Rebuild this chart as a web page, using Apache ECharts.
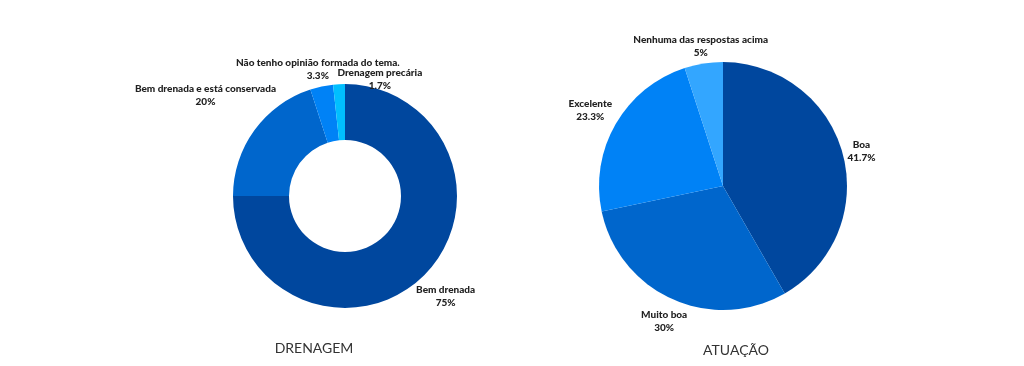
<!DOCTYPE html>
<html>
<head>
<meta charset="utf-8">
<script src="https://cdn.jsdelivr.net/npm/echarts@6/dist/echarts.min.js"></script>
<style>html,body{margin:0;padding:0;background:#fff;}#c{width:1024px;height:366px;}</style>
</head>
<body>
<div id="c"></div>
<script>
const drenagemNames = ['Bem drenada', 'Bem drenada e está conservada', 'Não tenho opinião formada do tema.', 'Drenagem precária'];
const drenagemValues = [75, 20, 3.3, 1.7];
const drenagemColors = ['#00479E', '#0066CC', '#0082F6', '#00BFFF'];

const atuacaoNames = ['Boa', 'Muito boa', 'Excelente', 'Nenhuma das respostas acima'];
const atuacaoValues = [41.7, 30, 23.3, 5];
const atuacaoColors = ['#00479E', '#0066CC', '#0082F6', '#33A6FF'];

const titles = ['DRENAGEM', 'ATUAÇÃO'];

// label nudges (style only), per series / per slice
const labelNudges = [
  [[-23, 11], [38, -27], [86, -3], [89, 9]],
  [[-10, 0], [24, 13], [10, -9], [71, -7]]
];

const chart = echarts.init(document.getElementById('c'), null, {renderer: 'canvas'});

function build(names, values, colors) {
  return names.map((n, i) => ({name: n, value: values[i], itemStyle: {color: colors[i]}}));
}

const labelCfg = {
  show: true,
  position: 'outside',
  formatter: p => '{n|' + p.name + '}\n{v|' + p.value + '%}',
  rich: {
    n: {fontFamily: 'Lato', fontWeight: 900, fontSize: 10, color: '#222', align: 'center', lineHeight: 13},
    v: {fontFamily: 'Lato', fontWeight: 900, fontSize: 10, color: '#222', align: 'center', lineHeight: 13}
  }
};

function layoutFn(params) {
  const r = params.labelRect;
  const nd = labelNudges[params.seriesIndex][params.dataIndex];
  return {
    x: r.x + r.width / 2 + nd[0],
    y: r.y + r.height / 2 + nd[1],
    align: 'center',
    verticalAlign: 'middle',
    hideOverlap: false,
    moveOverlap: null
  };
}

chart.setOption({
  animation: false,
  backgroundColor: '#fff',
  title: [
    {text: titles[0], left: 309, top: 336, textAlign: 'center', textStyle: {fontFamily: 'Lato', fontWeight: 'normal', fontSize: 14, color: '#333'}},
    {text: titles[1], left: 731, top: 338, textAlign: 'center', textStyle: {fontFamily: 'Lato', fontWeight: 'normal', fontSize: 14, color: '#333'}}
  ],
  series: [
    {
      type: 'pie',
      center: [345, 196],
      radius: [56, 112],
      startAngle: 90,
      avoidLabelOverlap: false,
      label: labelCfg,
      labelLine: {show: false, length: 14, length2: 0},
      labelLayout: layoutFn,
      data: build(drenagemNames, drenagemValues, drenagemColors)
    },
    {
      type: 'pie',
      center: [723, 186],
      radius: [0, 124],
      startAngle: 90,
      avoidLabelOverlap: false,
      label: labelCfg,
      labelLine: {show: false, length: 10, length2: 0},
      labelLayout: layoutFn,
      data: build(atuacaoNames, atuacaoValues, atuacaoColors)
    }
  ]
});
</script>
</body>
</html>
